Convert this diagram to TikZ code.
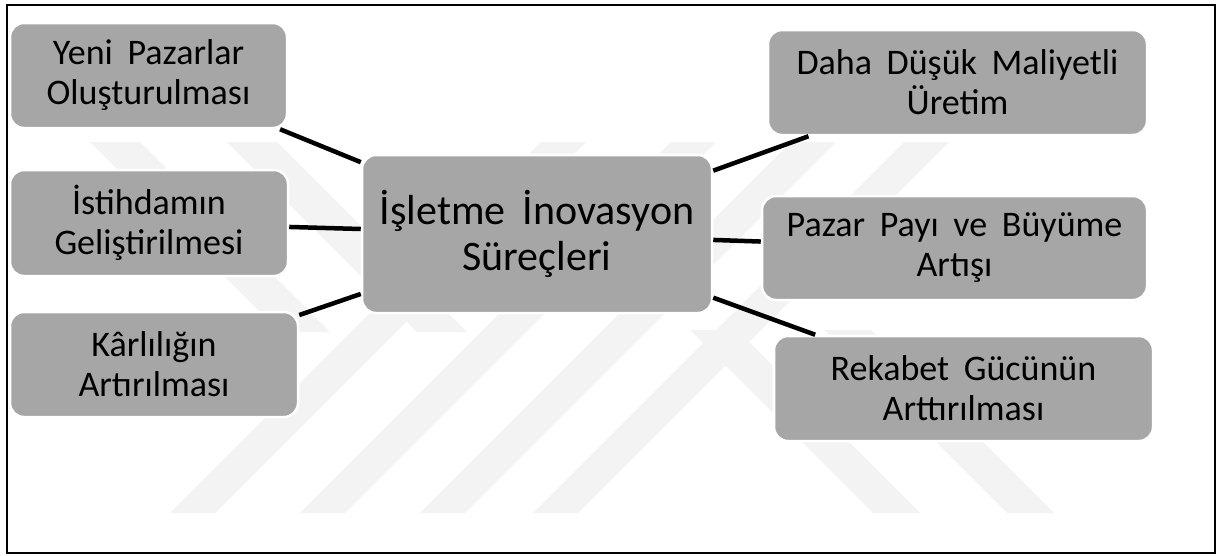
\documentclass[tikz,border=0pt]{standalone}
\usepackage{fontspec}
\setmainfont{Carlito}[WordSpace=1.8]
\definecolor{boxgray}{HTML}{A6A6A6}
\definecolor{wmgray}{HTML}{F3F3F3}
\begin{document}
\begin{tikzpicture}[x=1pt,y=-1pt,
  box/.style={rectangle, rounded corners=14pt, fill=boxgray, draw=white,
    line width=2.5pt, align=center, inner sep=0pt, text=black,
    font=\fontsize{36}{40}\selectfont},
  hub/.style={box, font=\fontsize{42}{46}\selectfont},
  conn/.style={line width=4.5pt, black},
  band/.style={fill=wmgray, draw=none}]
\useasboundingbox (0,0) rectangle (1217,555);

% faint background pattern
\foreach \bx in {170,300,420,533}
  \fill[band] (\bx,513) -- (\bx+45,513) -- (\bx+416,142) -- (\bx+371,142) -- cycle;
\foreach \bx in {873,1007}
  \fill[band] (\bx,513) -- (\bx+47,513) -- (\bx+47-183,330) -- (\bx-183,330) -- cycle;
\foreach \bx in {90,227}
  \fill[band] (\bx,142) -- (\bx+50,142) -- (\bx+50+190,332) -- (\bx+190,332) -- cycle;

% frame
\draw[line width=1.5pt] (7,5) rectangle (1215,553);

% hub and surrounding boxes
\node[hub, minimum width=350pt, minimum height=158pt] (hub) at (537,234)
  {İşletme İnovasyon\\Süreçleri};
\node[box, minimum width=277pt, minimum height=105pt] (yeni) at (148.5,75.5)
  {Yeni Pazarlar\\Oluşturulması};
\node[box, minimum width=278pt, minimum height=106pt] (istihdam) at (149,223)
  {İstihdamın\\Geliştirilmesi};
\node[box, minimum width=288pt, minimum height=105pt] (karlilik) at (154,364.5)
  {Kârlılığın\\Artırılması};
\node[box, minimum width=379pt, minimum height=105pt] (maliyet) at (957.5,82.5)
  {Daha Düşük Maliyetli\\Üretim};
\node[box, minimum width=385pt, minimum height=104pt] (pazar) at (954.5,248)
  {Pazar Payı ve Büyüme\\Artışı};
\node[box, minimum width=379pt, minimum height=105pt] (rekabet) at (963.5,388.5)
  {Rekabet Gücünün\\Arttırılması};

% connectors
\draw[conn] (hub) -- (yeni);
\draw[conn] (hub) -- (istihdam);
\draw[conn] (hub) -- (karlilik);
\draw[conn] (hub) -- (maliyet);
\draw[conn] (hub) -- (pazar);
\draw[conn] (hub) -- (rekabet);
\end{tikzpicture}
\end{document}
